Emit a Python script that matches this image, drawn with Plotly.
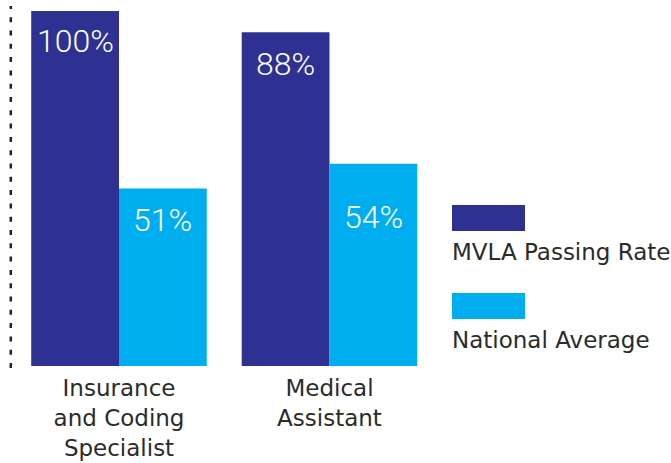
import plotly.graph_objects as go

# ---- data ----
categories = ["Insurance<br>and Coding<br>Specialist", "Medical<br>Assistant"]
series_names = ["MVLA Passing Rate", "National Average"]
mvla_values = [100, 94]        # bar heights as drawn
national_values = [50, 57]     # bar heights as drawn
mvla_labels = ["100%", "88%"]
national_labels = ["51%", "54%"]

# ---- style ----
W, H = 671, 463
DARK = "#2E3192"
LIGHT = "#00AEEF"
TEXT = "#2B2B2B"
BARGAP = 0.166
PLOT_BOTTOM = 366  # px from top
PX_PER_CAT = 210.5
CAT0_PX = 119
Y_TOP = PLOT_BOTTOM / 3.55
label_shift_mvla = [-9, -11]
label_shift_nat = [-10, -32]
VAL_FONT = dict(family="Roboto, sans-serif", size=32, color="white", weight=300)
TXT_FONT = dict(family="DejaVu Sans, sans-serif", size=23, color=TEXT)

fig = go.Figure()
fig.add_trace(go.Bar(x=categories, y=mvla_values, name=series_names[0],
                     marker=dict(color=DARK, line=dict(width=0))))
fig.add_trace(go.Bar(x=categories, y=national_values, name=series_names[1],
                     marker=dict(color=LIGHT, line=dict(width=0))))

off = (1 - BARGAP) / 4
for i, cat in enumerate(categories):
    fig.add_annotation(x=i - off, y=mvla_values[i], text=mvla_labels[i], showarrow=False,
                       xanchor="center", yanchor="top", yshift=label_shift_mvla[i], font=VAL_FONT)
    fig.add_annotation(x=i + off, y=national_values[i], text=national_labels[i], showarrow=False,
                       xanchor="center", yanchor="top", yshift=label_shift_nat[i], font=VAL_FONT)

# dotted axis line
fig.add_shape(type="line", xref="paper", yref="paper", x0=10.8 / W, x1=10.8 / W,
              y0=-2 / PLOT_BOTTOM, y1=1 - 6 / PLOT_BOTTOM,
              line=dict(color="#222222", width=2.5, dash="5px,8.3px"))

# custom legend (swatch above text)
legend_rows = [(205, DARK), (293, LIGHT)]
for (top, col), name in zip(legend_rows, series_names):
    fig.add_shape(type="rect", xref="paper", yref="paper", x0=452 / W, x1=525 / W,
                  y0=1 - (top + 26) / PLOT_BOTTOM, y1=1 - top / PLOT_BOTTOM,
                  fillcolor=col, line=dict(width=0))
    fig.add_annotation(xref="paper", yref="paper", x=450 / W, y=1 - (top + 32) / PLOT_BOTTOM,
                       text=name, showarrow=False, xanchor="left", yanchor="top", font=TXT_FONT)

fig.update_layout(
    width=W, height=H,
    margin=dict(l=0, r=0, t=0, b=H - PLOT_BOTTOM, pad=0),
    paper_bgcolor="white", plot_bgcolor="white",
    barmode="group", bargap=BARGAP, bargroupgap=0,
    showlegend=False,
    xaxis=dict(range=[-CAT0_PX / PX_PER_CAT, (W - CAT0_PX) / PX_PER_CAT],
               showgrid=False, zeroline=False, showline=False, ticks="",
               tickfont=TXT_FONT, ticklabelstandoff=6),
    yaxis=dict(range=[0, Y_TOP], visible=False, showgrid=False, zeroline=False),
)

fig.write_html("out.html")
